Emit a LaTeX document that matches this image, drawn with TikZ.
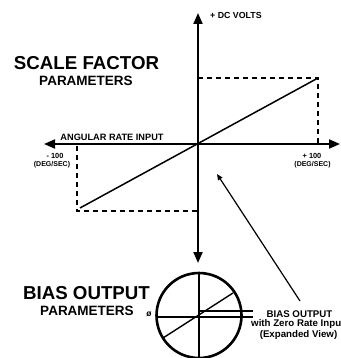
\documentclass[tikz,border=0pt]{standalone}
\usepackage{fontspec}
\setmainfont{Liberation Sans}
\usetikzlibrary{arrows.meta}
\begin{document}
\begin{tikzpicture}[x=1pt,y=-1pt,
  axis/.style={line width=2pt,{Triangle[length=11pt,width=9pt]}-{Triangle[length=11pt,width=9pt]}},
  dashline/.style={line width=1.6pt,dash pattern=on 5pt off 4pt},
  thin/.style={line width=1.2pt},
  lbl/.style={inner sep=0pt,font=\bfseries},
]
\useasboundingbox (0,0) rectangle (340,358);
% coordinates
\coordinate (top) at (198,13);
\coordinate (bot) at (198,263);
\coordinate (lft) at (44,144);
\coordinate (rgt) at (340,144);
\coordinate (ur) at (318,78);
\coordinate (ll) at (77,211);
\coordinate (urx) at (198,78);
\coordinate (urd) at (318,144);
\coordinate (llx) at (198,211);
\coordinate (llu) at (77,146);
\coordinate (lineL) at (80,208);
% axes
\draw[axis] (lft) -- (rgt);
\draw[axis] (top) -- (bot);
% dashed box lines
\draw[dashline] (urx) -- (ur) -- (urd);
\draw[dashline] (llu) -- (ll) -- (llx);
% scale line
\draw[line width=1.5pt] (lineL) -- (ur);
% circle
\coordinate (c) at (199,315.5);
\draw[line width=2.6pt] (c) circle (42.5);
\coordinate (cT) at (199,273);
\coordinate (cB) at (199,358);
\draw[thin] (cT) -- (cB);
\coordinate (hL) at (156,317);
\coordinate (hR) at (253,317);
\coordinate (h2L) at (199,311);
\coordinate (h2R) at (253,311);
\draw[thin] (hL) -- (hR);
\draw[thin] (h2L) -- (h2R);
\coordinate (dA) at (163,338);
\coordinate (dB) at (233,293);
\draw[line width=1.4pt] (dA) -- (dB);
% pointer
\coordinate (pS) at (300,301);
\coordinate (pE) at (217,174);
\draw[line width=1.2pt,-{Triangle[length=6pt,width=5pt]}] (pS) -- (pE);
% texts
\node[lbl,font=\bfseries\fontsize{8.8}{9}\selectfont,anchor=west] (dc) at (210,15) {+ DC VOLTS};
\node[lbl,font=\bfseries\fontsize{18.7}{20}\selectfont] (sf) at (86.5,63) {SCALE FACTOR};
\node[lbl,font=\bfseries\fontsize{13.5}{15}\selectfont] (p1) at (86,81) {PARAMETERS};
\node[lbl,font=\bfseries\fontsize{9.2}{10}\selectfont] (ari) at (112,137.5) {ANGULAR RATE INPUT};
\node[lbl,font=\bfseries\fontsize{7.4}{8}\selectfont] (m100) at (55,156) {- 100};
\node[lbl,font=\bfseries\fontsize{7}{8}\selectfont] (m100u) at (52,165) {(DEG/SEC)};
\node[lbl,font=\bfseries\fontsize{7.4}{8}\selectfont] (p100) at (312,156) {+ 100};
\node[lbl,font=\bfseries\fontsize{7}{8}\selectfont] (p100u) at (312.5,165) {(DEG/SEC)};
\node[lbl,font=\bfseries\fontsize{18.7}{20}\selectfont] (bo) at (86.5,293) {BIAS OUTPUT};
\node[lbl,font=\bfseries\fontsize{13.5}{15}\selectfont] (p2) at (87,311) {PARAMETERS};
\node[lbl,font=\bfseries\fontsize{8.5}{9}\selectfont] (phi) at (149,314) {ø};
\node[lbl,font=\bfseries\fontsize{9.7}{10}\selectfont] (b2) at (299.5,314) {BIAS OUTPUT};
\node[lbl,font=\bfseries\fontsize{9.7}{10}\selectfont,anchor=west] (b3) at (251,324) {with Zero Rate Input};
\node[lbl,font=\bfseries\fontsize{9.7}{10}\selectfont] (b4) at (298.5,334.5) {(Expanded View)};
\end{tikzpicture}
\end{document}
